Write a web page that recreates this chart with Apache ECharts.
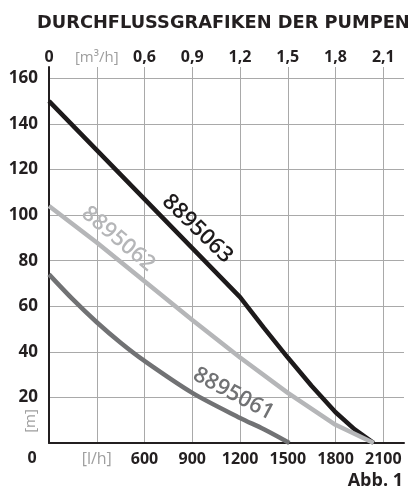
<!DOCTYPE html>
<html><head><meta charset="utf-8">
<script src="https://cdn.jsdelivr.net/npm/echarts@6/dist/echarts.min.js"></script>
<style>html,body{margin:0;padding:0;background:#fff}#c{width:408px;height:493px}</style>
</head><body><div id="c"></div>
<script>
const chartTitle = 'DURCHFLUSSGRAFIKEN DER PUMPEN';
const figureNote = 'Abb. 1';
const flowTicks = [0, 300, 600, 900, 1200, 1500, 1800, 2100];
const topTickLabels = ['0', '[m³/h]', '0,6', '0,9', '1,2', '1,5', '1,8', '2,1'];
const bottomTickLabels = ['', '[l/h]', '600', '900', '1200', '1500', '1800', '2100'];
const headTicks = [20, 40, 60, 80, 100, 120, 140, 160];
const unitHead = '[m]';

const pumpNames = ['8895063', '8895062', '8895061'];
const pump63Flow = [0, 300, 600, 900, 1200, 1350, 1500, 1650, 1800, 1920, 2040];
const pump63Head = [150, 128.5, 107, 85.5, 64, 50.5, 37.5, 25, 13.5, 6, 0];
const pump62Flow = [0, 300, 600, 900, 1200, 1500, 1800, 2040];
const pump62Head = [104, 88, 71, 54, 37.5, 22, 8, 0];
const pump61Flow = [0, 150, 300, 450, 600, 900, 1200, 1350, 1510];
const pump61Head = [74, 63, 53, 44, 36, 22, 11, 6, 0];

const FLOW_MAX = 2230, HEAD_MAX = 165;
const gray = '#9e9e9e';
const ink = '#231f20';

const chart = echarts.init(document.getElementById('c'), null, {renderer: 'canvas'});
const zip = (a, b) => a.map((v, i) => [v, b[i]]);

function tickLabel(list) {
  return function (v) {
    const i = flowTicks.indexOf(v);
    if (i < 0) return '';
    const t = list[i];
    return t.startsWith('[') ? '{g|' + t + '}' : t;
  };
}

chart.setOption({
  animation: false,
  backgroundColor: '#fff',
  title: {
    text: chartTitle, left: 32, top: 9,
    textStyle: {fontFamily: 'DejaVu Sans', fontWeight: 'bold', fontSize: 17.8, color: ink}
  },
  grid: {left: 49, right: 4, top: 67, bottom: 50, containLabel: false, outerBoundsMode: 'none'},
  xAxis: [{
    type: 'value', min: 0, max: FLOW_MAX, interval: 300, position: 'bottom',
    axisLine: {show: true, onZero: false, lineStyle: {color: ink, width: 2}},
    axisTick: {show: false},
    splitLine: {show: true, showMaxLine: false, showMinLine: false, lineStyle: {color: '#a9a9a9', width: 1}},
    axisLabel: {
      formatter: tickLabel(bottomTickLabels), margin: 8, showMaxLabel: false,
      fontFamily: 'Liberation Sans Narrow, Open Sans', fontWeight: 'bold', fontSize: 16, color: ink,
      rich: {g: {color: gray, fontWeight: 'normal', fontSize: 16, fontFamily: 'Liberation Sans Narrow, Open Sans'}}
    }
  }, {
    type: 'value', min: 0, max: FLOW_MAX, interval: 300, position: 'top',
    axisLine: {show: false}, axisTick: {show: false}, splitLine: {show: false},
    axisLabel: {
      formatter: tickLabel(topTickLabels), margin: 2, showMaxLabel: false,
      fontFamily: 'Open Sans', fontWeight: 'bold', fontSize: 16, color: ink,
      rich: {g: {color: gray, fontWeight: 'normal', fontSize: 15, fontFamily: 'Open Sans'}}
    }
  }],
  yAxis: {
    type: 'value', min: 0, max: HEAD_MAX, interval: 20,
    axisLine: {show: true, onZero: false, lineStyle: {color: ink, width: 2}},
    axisTick: {show: false},
    splitLine: {show: true, showMaxLine: false, showMinLine: false, lineStyle: {color: '#a9a9a9', width: 1}},
    axisLabel: {
      formatter: v => headTicks.indexOf(v) >= 0 ? String(v) : '',
      margin: 11, showMaxLabel: false,
      fontFamily: 'Open Sans', fontWeight: 'bold', fontSize: 17, color: ink
    }
  },
  series: [
    {name: pumpNames[0], type: 'line', data: zip(pump63Flow, pump63Head), symbol: 'none', z: 3,
     lineStyle: {color: '#1d1a1b', width: 4.5}},
    {name: pumpNames[1], type: 'line', data: zip(pump62Flow, pump62Head), symbol: 'none', z: 4,
     lineStyle: {color: '#b5b6b8', width: 4.5}},
    {name: pumpNames[2], type: 'line', data: zip(pump61Flow, pump61Head), symbol: 'none', z: 3, smooth: 0.3,
     lineStyle: {color: '#717274', width: 4.5}}
  ]
});

// curve labels anchored in data coordinates
const labelAnchors = [[932, 94], [435, 89.5], [1159, 21.5]];
const labelAngles = [44, 40, 28];
const labelColors = ['#1d1a1b', '#b5b6b8', '#717274'];
const graphics = pumpNames.map((name, i) => {
  const p = chart.convertToPixel({gridIndex: 0}, labelAnchors[i]);
  return {
    type: 'text', x: p[0], y: p[1], rotation: -labelAngles[i] * Math.PI / 180,
    style: {text: name, fontFamily: 'Open Sans', fontWeight: 600, fontSize: 22,
            fill: labelColors[i], align: 'center', verticalAlign: 'middle'}, z: 10
  };
});
const origin = chart.convertToPixel({gridIndex: 0}, [0, 0]);
graphics.push({
  type: 'text', x: origin[0] - 17, y: origin[1] + 15,
  style: {text: '0', fontFamily: 'Open Sans', fontWeight: 'bold', fontSize: 16, fill: ink,
          align: 'center', verticalAlign: 'middle'}
});
graphics.push({
  type: 'text', x: origin[0] - 18, y: origin[1] - 22, rotation: Math.PI / 2,
  style: {text: unitHead, fontFamily: 'Open Sans', fontSize: 15, fill: gray,
          align: 'center', verticalAlign: 'middle'}
});
graphics.push({
  type: 'text', right: 5, bottom: 3,
  style: {text: figureNote, fontFamily: 'Liberation Sans Narrow, Open Sans', fontWeight: 'bold', fontSize: 18, fill: ink}
});
chart.setOption({graphic: graphics});
</script>
</body></html>
